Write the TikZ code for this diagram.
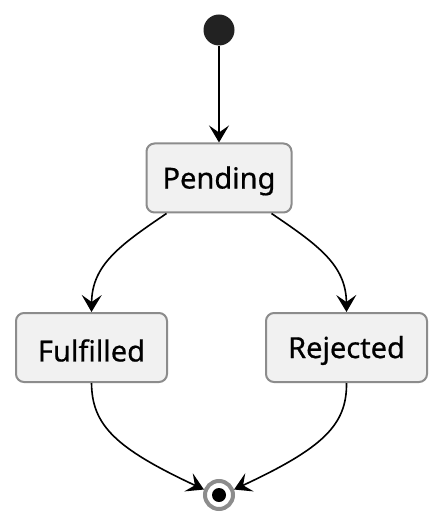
\documentclass[tikz,border=0pt]{standalone}
\usepackage{fontspec}
\setmainfont{Noto Sans}
\newfontfamily\statefont{Noto Sans}[UprightFeatures={FakeBold=0.6}]
\usetikzlibrary{arrows.meta}
\definecolor{boxfill}{HTML}{F1F1F1}
\definecolor{boxline}{HTML}{8C8C8C}
\definecolor{startfill}{HTML}{222222}
\tikzset{
  state/.style={draw=boxline, line width=2pt, fill=boxfill, rounded corners=8pt,
    minimum height=69pt, font=\statefont\fontsize{29}{32}\selectfont, text=black, inner sep=0pt},
  conn/.style={line width=1.6pt, -{Stealth[length=17pt,width=20pt,inset=7pt]}}
}
\newcommand{\lowtext}[1]{\raisebox{-3pt}[\height][\depth]{#1}}
\begin{document}
\begin{tikzpicture}[x=1pt,y=-1pt]
\useasboundingbox (0,0) rectangle (443,526);
\fill[white] (0,0) rectangle (443,526);
\node[circle, fill=startfill, minimum size=31pt, inner sep=0pt] (start) at (219,30) {};
\node[state, minimum width=145pt] (pend) at (219,178) {\lowtext{Pending}};
\node[state, minimum width=151pt] (ful) at (91.5,347.5) {\lowtext{Fulfilled}};
\node[state, minimum width=161pt] (rej) at (346.5,347.5) {\lowtext{Rejected}};
\node[circle, draw=boxline, line width=4pt, fill=white, minimum size=28pt, inner sep=0pt] (end) at (219,495) {};
\fill[black] (end.center) circle (7pt);
\draw[conn] (start) -- (pend);
\draw[conn] (pend.south west) ++(21,0) coordinate (p1) (p1) .. controls (120,245) and (92,265) .. (ful.north);
\draw[conn] (pend.south east) ++(-21,0) coordinate (p2) (p2) .. controls (318,245) and (346,265) .. (rej.north);
\draw[conn] (ful.south) .. controls (92,425) and (115,448) .. (end.160);
\draw[conn] (rej.south) .. controls (347,425) and (323,448) .. (end.20);
\end{tikzpicture}
\end{document}
